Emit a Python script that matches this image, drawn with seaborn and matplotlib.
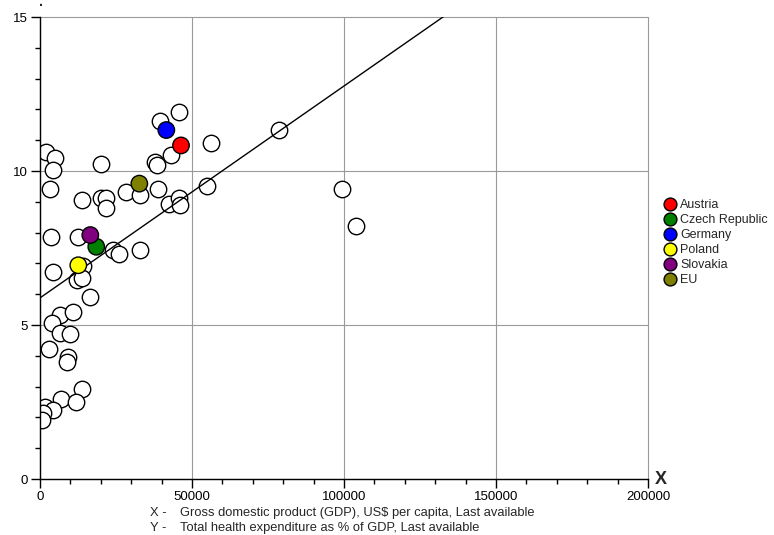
import numpy as np
import pandas as pd
import matplotlib
matplotlib.use("Agg")
import matplotlib.pyplot as plt
import matplotlib.ticker as mticker
import seaborn as sns

# ---------------- data ----------------
other_gdp = [1870, 4935, 4385, 3400, 20060, 13710, 19960, 21710, 21710, 28290,
             33000, 38810, 37930, 38380, 43190, 39570, 45830, 56140, 54820, 42530,
             45720, 46050, 3620, 12400, 24110, 25880, 33000, 14250, 4390, 12280,
             13710, 16450, 6580, 10750, 3850, 6690, 9760, 3070, 9320, 8770,
             13920, 6910, 11940, 1640, 4390, 1100, 550, 78710, 99430, 103840]
other_the = [10.62, 10.41, 10.02, 9.42, 10.22, 9.05, 9.11, 9.11, 8.80, 9.31,
             9.21, 9.41, 10.29, 10.18, 10.53, 11.62, 11.92, 10.92, 9.52, 8.92,
             9.11, 8.91, 7.86, 7.85, 7.45, 7.32, 7.42, 6.90, 6.72, 6.47,
             6.53, 5.91, 5.34, 5.42, 5.07, 4.74, 4.72, 4.22, 3.96, 3.81,
             2.92, 2.60, 2.51, 2.35, 2.24, 2.14, 1.92, 11.33, 9.43, 8.23]

countries = ["Austria", "Czech Republic", "Germany", "Poland", "Slovakia", "EU"]
country_gdp = [46380, 18520, 41550, 12600, 16550, 32670]
country_the = [10.83, 7.54, 11.33, 6.94, 7.92, 9.59]
country_colors = ["#ff0000", "#008000", "#0000ff", "#ffff00", "#800080", "#808000"]

trend_intercept = 5.88
trend_slope = 6.88e-5

x_ticks = [0, 50000, 100000, 150000, 200000]
y_ticks = [0, 5, 10, 15]

x_caption = "Gross domestic product (GDP), US$ per capita, Last available"
y_caption = "Total health expenditure as % of GDP, Last available"

# ---------------- style ----------------
sns.set_style("white")
plt.rcParams["font.family"] = ["Liberation Sans", "DejaVu Sans"]

W, H = 774, 535
fig = plt.figure(figsize=(W / 100, H / 100), dpi=100)
ax = fig.add_axes([40 / W, 1 - 479 / H, 608 / W, 462 / H])

df_other = pd.DataFrame({"gdp": other_gdp, "the": other_the})
df_c = pd.DataFrame({"gdp": country_gdp, "the": country_the, "country": countries})

ax.grid(True, which="major", color="#9a9a9a", lw=0.8, zorder=0)
ax.set_axisbelow(True)

sns.scatterplot(data=df_other, x="gdp", y="the", ax=ax, s=140, color="white",
                edgecolor="black", linewidth=1.0, zorder=2, legend=False)

xs = np.array([0, 200000])
ax.plot(xs, trend_intercept + trend_slope * xs, color="black", lw=1.0, zorder=3)

sns.scatterplot(data=df_c, x="gdp", y="the", hue="country", hue_order=countries,
                palette=dict(zip(countries, country_colors)), ax=ax, s=140,
                edgecolor="black", linewidth=1.0, zorder=4)

ax.set_xlim(0, 200000)
ax.set_ylim(0, 15)
ax.set_xticks(x_ticks)
ax.set_yticks(y_ticks)
ax.xaxis.set_minor_locator(mticker.MultipleLocator(10000))
ax.yaxis.set_minor_locator(mticker.MultipleLocator(1))
ax.xaxis.set_major_formatter(mticker.FormatStrFormatter("%d"))
ax.yaxis.set_major_formatter(mticker.FormatStrFormatter("%d"))
ax.tick_params(which="major", direction="out", length=6.5, width=1, color="black",
               labelsize=9.5, pad=2, labelcolor="black", bottom=True, left=True)
ax.tick_params(which="minor", direction="out", length=3.5, width=1, color="black",
               bottom=True, left=True)
ax.set_xlabel("")
ax.set_ylabel("")
for s in ["top", "right"]:
    ax.spines[s].set_visible(False)
for s in ["left", "bottom"]:
    ax.spines[s].set_color("black")
    ax.spines[s].set_linewidth(1.0)
for gl in ax.get_xgridlines() + ax.get_ygridlines():
    gl.set_clip_on(False)

handles, labels = ax.get_legend_handles_labels()
ax.get_legend().remove()
leg = fig.legend(handles, labels, loc="upper left",
                 bbox_to_anchor=(657 / W, 1 - 193 / H), frameon=False,
                 fontsize=9, labelspacing=0.24, handletextpad=0.35,
                 handlelength=1.0, borderpad=0, markerscale=0.78)

fig.text(655 / W, 1 - 479 / H, "X", fontsize=13, fontweight="bold",
         ha="left", va="center")
fig.text(41 / W, 1 - 6 / H, "\u00b7", fontsize=10, fontweight="bold",
         ha="center", va="center")

cap_fs = 9.3
fig.text(150 / W, 1 - 513 / H, "X -", fontsize=cap_fs, ha="left", va="center")
fig.text(180 / W, 1 - 513 / H, x_caption, fontsize=cap_fs, ha="left", va="center")
fig.text(150 / W, 1 - 528 / H, "Y -", fontsize=cap_fs, ha="left", va="center")
fig.text(180 / W, 1 - 528 / H, y_caption, fontsize=cap_fs, ha="left", va="center")

fig.savefig("out.png", dpi=100, facecolor="white")
